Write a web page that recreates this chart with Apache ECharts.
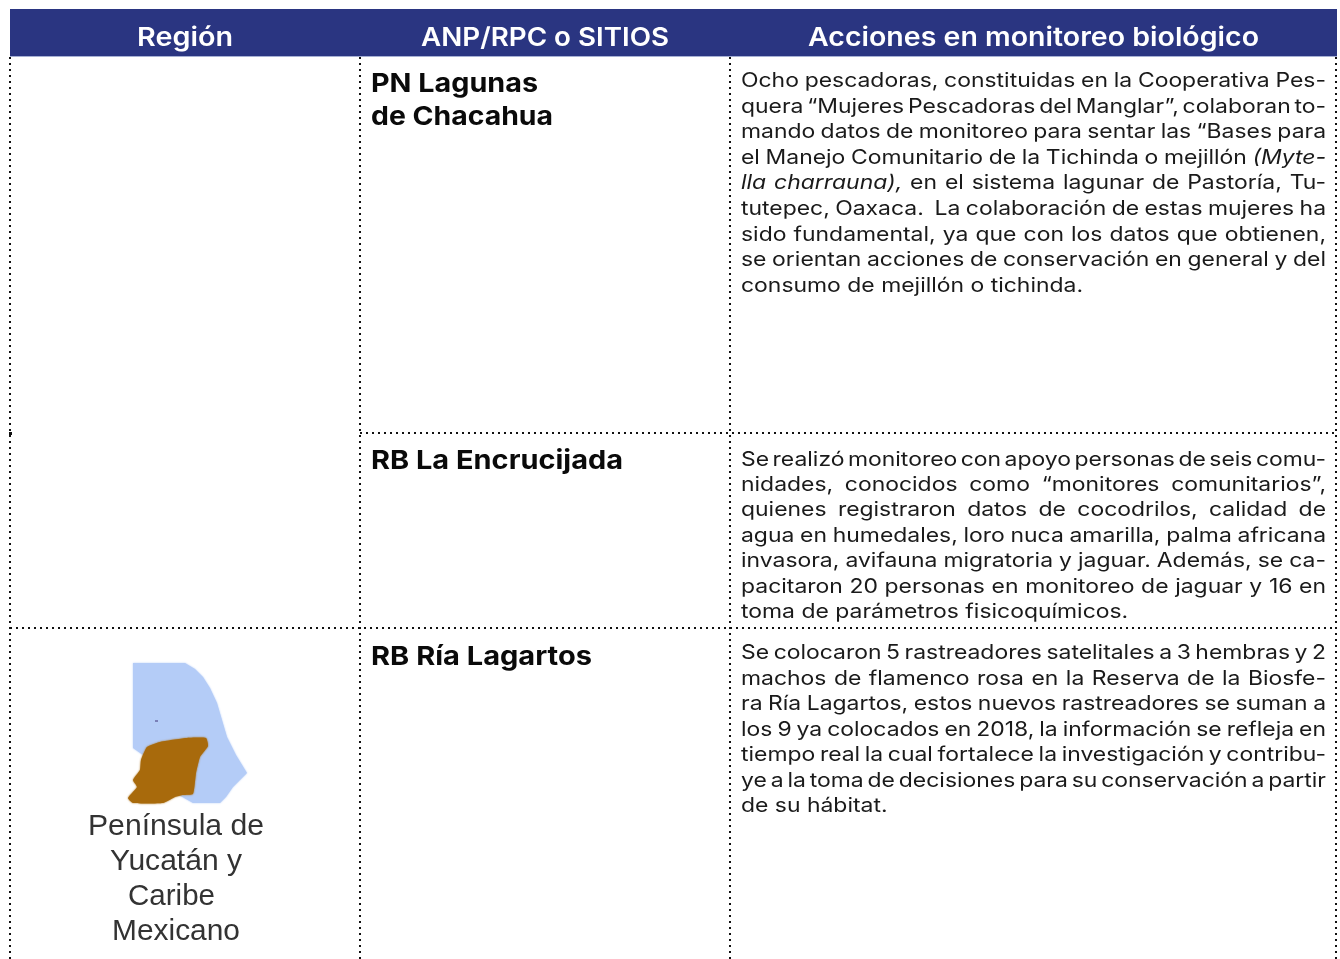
<!DOCTYPE html>
<html><head><meta charset="utf-8">
<style>html,body{margin:0;padding:0;background:#fff}#c{width:1340px;height:959px}</style>
<script src="https://cdn.jsdelivr.net/npm/echarts@6/dist/echarts.min.js"></script>
</head><body><div id="c"></div>
<script>
const headers = ["Región", "ANP/RPC o SITIOS", "Acciones en monitoreo biológico"];
const siteLagunas = ["PN Lagunas", "de Chacahua"];
const siteEncrucijada = ["RB La Encrucijada"];
const siteLagartos = ["RB Ría Lagartos"];
const regionLabel = ["Península de", "Yucatán y", "Caribe", "Mexicano"];
const actionsLagunas = [
  "Ocho pescadoras, constituidas en la Cooperativa Pes-",
  "quera “Mujeres Pescadoras del Manglar”, colaboran to-",
  "mando datos de monitoreo para sentar las “Bases para",
  "el Manejo Comunitario de la Tichinda o mejillón *(Myte-*",
  "*lla* *charrauna),* en el sistema lagunar de Pastoría, Tu-",
  "tutepec, Oaxaca.  La colaboración de estas mujeres ha",
  "sido fundamental, ya que con los datos que obtienen,",
  "se orientan acciones de conservación en general y del",
  "consumo de mejillón o tichinda."
];
const actionsEncrucijada = [
  "Se realizó monitoreo con apoyo personas de seis comu-",
  "nidades, conocidos como “monitores comunitarios”,",
  "quienes registraron datos de cocodrilos, calidad de",
  "agua en humedales, loro nuca amarilla, palma africana",
  "invasora, avifauna migratoria y jaguar. Además, se ca-",
  "pacitaron 20 personas en monitoreo de jaguar y 16 en",
  "toma de parámetros fisicoquímicos."
];
const actionsLagartos = [
  "Se colocaron 5 rastreadores satelitales a 3 hembras y 2",
  "machos de flamenco rosa en la Reserva de la Biosfe-",
  "ra Ría Lagartos, estos nuevos rastreadores se suman a",
  "los 9 ya colocados en 2018, la información se refleja en",
  "tiempo real la cual fortalece la investigación y contribu-",
  "ye a la toma de decisiones para su conservación a partir",
  "de su hábitat."
];

const FONT = "Inter";
const mc = document.createElement("canvas").getContext("2d");
function measure(t, size, weight, italic, family) {
  mc.font = (italic ? "italic " : "") + weight + " " + size + "px '" + (family || FONT) + "'";
  return mc.measureText(t).width;
}
const els = [];
function txt(t, x, y, size, weight, fill, sx, italic, family) {
  els.push({ type: "text", x, y, scaleX: sx || 1, silent: true, z: 5,
    style: { text: t, fontFamily: family || FONT, fontSize: size, fontWeight: weight,
      fontStyle: italic ? "italic" : "normal", fill, align: "left", verticalAlign: "middle" } });
}
function fitted(t, left, width, y, size, weight, fill, family) {
  txt(t, left, y, size, weight, fill, width / measure(t, size, weight, false, family), false, family);
}
const BODY = 20, BODYCOL = "#1a1a1a", L = 741, R = 1326;
const bodyScale = 342 / measure(actionsLagunas[8], BODY, 400, false);
function block(lines, top, step) {
  lines.forEach((line, i) => {
    const y = top + i * step;
    const words = line.split(" ").map(w => {
      const it = w.startsWith("*");
      return { t: w.replace(/\*/g, ""), it };
    });
    const sw = measure(" ", BODY, 400, false) * bodyScale;
    const widths = words.map(w => measure(w.t, BODY, 400, w.it) * bodyScale);
    const sum = widths.reduce((a, b) => a + b, 0);
    const gaps = words.length - 1;
    const gap = i === lines.length - 1 ? sw : (R - L - sum) / gaps;
    let x = L;
    words.forEach((w, k) => {
      if (w.t) txt(w.t, x, y, BODY, 400, BODYCOL, bodyScale, w.it);
      x += widths[k] + gap;
    });
  });
}

// Header band
els.push({ type: "rect", shape: { x: 10, y: 9, width: 1327, height: 47 }, style: { fill: "#2a3581" }, z: 1 });
els.push({ type: "rect", shape: { x: 10, y: 56, width: 1327, height: 1 }, style: { fill: "#a6b0d4" }, z: 1 });
fitted(headers[0], 137, 96, 38, 26, 600, "#ffffff");
fitted(headers[1], 421, 248, 38, 26, 600, "#ffffff");
fitted(headers[2], 808, 451, 38, 26, 600, "#ffffff");

// Dotted rules
const dot = { stroke: "#111", lineWidth: 2, lineDash: [2, 4] };
function rule(x1, y1, x2, y2) {
  els.push({ type: "line", shape: { x1, y1, x2, y2 }, style: dot, z: 2 });
}
[10, 360, 730, 1336].forEach(x => rule(x, 57, x, 959));
rule(360, 433, 1337, 433);
rule(10, 628, 1337, 628);
els.push({ type: "rect", shape: { x: 9, y: 432, width: 3, height: 3 }, style: { fill: "#111" }, z: 2 });

// Site names
fitted(siteLagunas[0], 371, 167, 84, 26, 700, "#0a0a0a");
fitted(siteLagunas[1], 371, 182, 117, 26, 700, "#0a0a0a");
fitted(siteEncrucijada[0], 371, 252, 461, 26, 700, "#0a0a0a");
fitted(siteLagartos[0], 371, 221, 657, 26, 700, "#0a0a0a");

// Action paragraphs
block(actionsLagunas, 81, 25.6);
block(actionsEncrucijada, 459.5, 25.4);
block(actionsLagartos, 653, 25.5);

// Region pictogram
els.push({ type: "polygon", z: 3, shape: { points: [
  [133,663],[185,663],[195,669],[203,677],[210,688],[217,703],[222,720],[227,737],[236,755],[247,773],[240,780],[233,787],[226,797],[220,803],[193,803],[170,790],[150,760],[133,748]
] }, style: { fill: "#b4ccf7", shadowColor: "#b4ccf7", shadowBlur: 2 } });
els.push({ type: "polygon", z: 4, shape: { smooth: 0.15, points: [
  [147,747],[160,742],[186,738],[206,738],[208,746],[200,757],[196,773],[193,794],[183,795],[175,797],[163,803],[133,803],[128,798],[137,787],[133,780],[140,770],[141,760]
] }, style: { fill: "#a86a0c", shadowColor: "#a86a0c", shadowBlur: 2 } });
els.push({ type: "rect", z: 4, shape: { x: 155, y: 720, width: 3, height: 2 }, style: { fill: "#7a80b8" } });

// Region label
const labelLefts = [88, 110, 128, 112], labelWidths = [176, 132, 87, 128], labelYs = [827, 862, 897, 932];
regionLabel.forEach((t, i) => {
  const sx = labelWidths[i] / measure(t, 29, 400, false, "Liberation Sans");
  els.push({ type: "text", x: labelLefts[i], y: labelYs[i], scaleX: sx, silent: true, z: 5,
    style: { text: t, fontFamily: "Liberation Sans", fontSize: 29, fill: "#333333",
      align: "left", verticalAlign: "middle", shadowColor: "rgba(50,50,50,0.6)", shadowBlur: 2 } });
});

const chart = echarts.init(document.getElementById("c"), null, { renderer: "canvas" });
chart.setOption({ animation: false, backgroundColor: "#ffffff", graphic: { elements: els } });
</script></body></html>
